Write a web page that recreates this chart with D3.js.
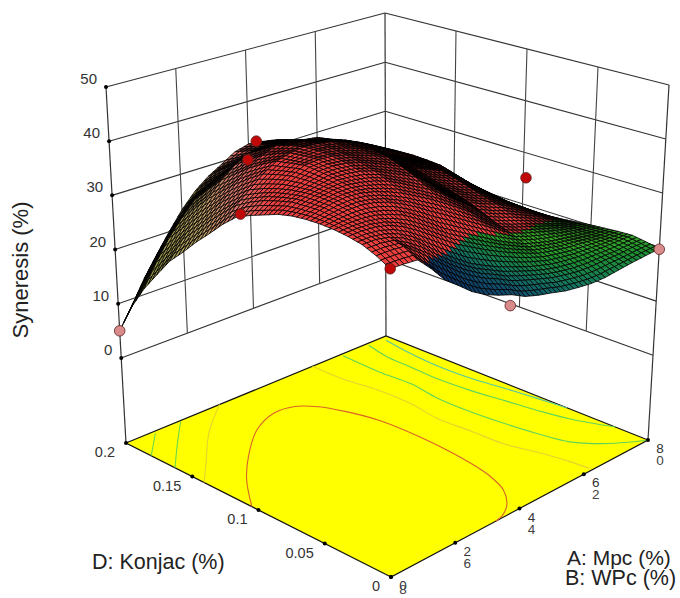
<!DOCTYPE html>
<html>
<head>
<meta charset="utf-8">
<script src="https://cdn.jsdelivr.net/npm/d3@7"></script>
<style>
  html, body { margin: 0; padding: 0; background: #fff; }
  text { font-family: "Liberation Sans", Arial, sans-serif; }
</style>
</head>
<body>
<div id="chart"></div>
<script>
// axis ticks
var zTicks = [0, 10, 20, 30, 40, 50];
var konjacTicks = [0, 0.05, 0.1, 0.15, 0.2];
var konjacLabels = ['0', '0.05', '0.1', '0.15', '0.2'];
var mpcTicks = [0, 2, 4, 6, 8];
var wpcTicks = [8, 6, 4, 2, 0];

var konjacSteps = [0, 0.01, 0.02, 0.03, 0.04, 0.05, 0.06, 0.07, 0.08, 0.09, 0.1, 0.11, 0.12, 0.13, 0.14, 0.15, 0.16, 0.17, 0.18, 0.19, 0.2];
var mpcSteps = [0, 0.4, 0.8, 1.2, 1.6, 2, 2.4, 2.8, 3.2, 3.6, 4, 4.4, 4.8, 5.2, 5.6, 6, 6.4, 6.8, 7.2, 7.6, 8];

// syneresis, one row per konjac step, one column per mpc step
var syneresis = [
  [35.7,35.6,35.4,33,30.2,28.3,26.3,24.8,23.7,22.8,21.5,20.7,20.1,19.4,19,18.7,18.7,19,19.3,19.5,19.7],
  [37,37,36.8,35,33,30.9,28.9,27.2,25.8,24.7,23.4,22.5,21.7,20.9,20.4,20,19.9,20,20,20.2,20.2],
  [38,38,37.5,36.5,35,33,31,29.2,27.5,26.2,25,24,23,22.2,21.5,21.1,20.8,20.7,20.6,20.6,20.6],
  [38.5,38.6,38.4,37.8,36.7,35.2,33.5,31.7,30,28.6,27.2,25.9,24.7,23.6,22.6,22,21.5,21.2,20.9,20.6,20.5],
  [38.8,39,39,38.7,38,37,35.5,33.8,32,30.5,29,27.5,26,24.7,23.5,22.7,22,21.5,21,20.6,20.3],
  [38.9,39.3,39.6,39.6,39.2,38.4,37.2,35.8,34.2,32.7,31.1,29.5,27.9,26.2,24.6,23.6,22.8,22,21.3,20.6,20.1],
  [38.8,39.5,40,40.2,40,39.4,38.5,37.4,36,34.6,33,31.3,29.5,27.4,25.5,24.4,23.5,22.5,21.5,20.6,19.8],
  [38.5,39.4,40.1,40.5,40.6,40.2,39.6,38.7,37.4,36,34.6,32.8,30.8,28.8,26.6,25.5,24.5,23.3,22.1,20.8,19.5],
  [37.9,39.2,40,40.6,41,40.9,40.5,39.7,38.5,37.3,36,34,31.7,29.6,27.7,26.5,25.5,24.1,22.6,21,19.3],
  [36.9,38.5,39.6,40.6,41.3,41.4,41.1,40.4,39.4,38.3,37.1,34.9,32.4,30.3,28.5,27.3,26.2,24.7,23,21.2,19.2],
  [35.9,37.7,39,40.4,41.5,41.7,41.5,40.9,40,39.1,38,35.6,33,31,29.3,28,27,25.2,23.3,21.3,19.2],
  [34.7,36.5,38.1,39.8,41,41.5,41.6,41.2,40.5,39.6,38.5,36.3,33.8,31.8,30.1,28.9,27.8,26,23.9,21.7,19.3],
  [32.5,35,37,39,40.5,41.2,41.5,41.3,40.8,39.9,38.8,36.8,34.5,32.5,30.8,29.6,28.5,26.6,24.4,22,19.6],
  [29.9,32.7,35.1,37.3,39.1,40.2,40.9,40.8,40.3,39.4,38.2,36.6,34.7,32.9,31.2,29.8,28.6,27,25.2,22.6,20],
  [27.4,30.3,33,35.4,37.5,39,40,40,39.5,38.7,37.5,36.3,34.8,33.2,31.6,30,28.7,27.4,26,23.2,20.4],
  [24.6,27.7,30.5,33.2,35.5,37.3,38.4,38.7,38.3,37.6,36.5,35.5,34.4,33.1,31.8,30,28.4,27.3,26.2,23.5,20.8],
  [22,25.1,28,30.9,33.5,35.5,36.8,37.2,37,36.4,35.5,34.8,34,33,32,30,28.2,27.2,26.3,23.8,21.1],
  [18.5,22,25.3,28.2,30.8,32.6,33.9,34.7,35,34.9,34.5,34,33.2,32.3,31.2,29.7,28.3,27.3,26.2,23.9,21.4],
  [14.9,18.9,22.5,25.4,28,29.7,31,32.2,33,33.4,33.5,33.1,32.5,31.6,30.5,29.5,28.5,27.3,26,23.9,21.6],
  [10.5,14.2,18,21.4,24.4,26.7,28.6,30.2,31.2,32.2,32.6,32.3,31.8,30.9,30,29.2,28.2,27,25.8,23.9,21.7],
  [5,8.8,12.9,16.5,20,23.3,26,28,29.5,31.1,31.8,31.5,31,30.1,29.4,29,27.8,26.8,25.5,23.8,21.7]
];

// design points [konjac, mpc, syneresis]
var pointsBelow = [[0.2, 0, 5], [0, 8, 19.6], [0, 3.56, 21]];
var pointsAbove = [[0, 0, 35.7], [0.107, 0, 35.5], [0.2, 4.23, 31.9], [0.2, 3.97, 28.8], [0.098, 8, 25.2]];

// contours on the floor [konjac, mpc]
var contourRed = [[0.105,0],[0.128,0.78],[0.146,1.57],[0.165,2.61],[0.173,3.46],[0.171,4.02],[0.162,4.38],[0.148,4.63],[0.128,4.84],[0.109,4.89],[0.084,4.87],[0.056,4.76],[0.037,4.61],[0.021,4.36],[0.009,3.98],[0.002,3.57],[0,3.26]];
var contourPaleA = [[0.2,5.74],[0.176,5.75],[0.154,5.89],[0.129,5.9],[0.106,5.78],[0.082,5.84],[0.058,5.88],[0.037,6.08],[0.016,6.22],[0.002,6.27]];
var contourPaleB = [[0.2,2.88],[0.18,1.74],[0.156,0.67],[0.141,0]];
var contourGreenA = [[0.198,6.6],[0.17,6.56],[0.146,6.61],[0.123,6.49],[0.098,6.5],[0.075,6.58],[0.053,6.7],[0.032,6.88],[0.016,7.29],[0.006,7.7],[0,8]];
var contourGreenB = [[0.198,7.39],[0.179,7.23],[0.16,7.21],[0.14,7.18],[0.116,7.25],[0.094,7.38],[0.072,7.5],[0.051,7.66],[0.025,8]];
var contourGreenC = [[0.199,1.64],[0.182,0.85],[0.163,0]];
var contourGreenD = [[0.198,0.82],[0.189,0.39],[0.181,0]];
var contourTeal = [[0.196,7.84],[0.178,7.73],[0.151,7.65],[0.127,7.69],[0.105,7.81],[0.082,7.92],[0.062,8]];

// box corners in pixels: front, left, back, right
var floorBox = [[391, 577], [126, 443], [386, 336], [648, 440]];
var topBox = [[390, 183], [106, 87], [385, 13], [669, 85]];

var w = 680;
var h = 598;

var uScale = d3.scaleLinear().domain([0, 0.2]).range([0, 1]);
var vScale = d3.scaleLinear().domain([0, 8]).range([0, 1]);
var tScale = d3.scaleLinear().domain([0, 50]).range([0.239, 1]);

function quad(box, u, v) {
  var f = box[0], l = box[1], b = box[2], r = box[3];
  return [
    f[0] + u * (l[0] - f[0]) + v * (r[0] - f[0]) + u * v * (b[0] - l[0] - r[0] + f[0]),
    f[1] + u * (l[1] - f[1]) + v * (r[1] - f[1]) + u * v * (b[1] - l[1] - r[1] + f[1])
  ];
}

function lift(u, v, t) {
  var a = quad(floorBox, u, v);
  var b = quad(topBox, u, v);
  return [a[0] + t * (b[0] - a[0]), a[1] + t * (b[1] - a[1])];
}

function project(k, m, z) {
  return lift(uScale(k), vScale(m), tScale(z));
}

function onFloor(k, m) {
  return quad(floorBox, uScale(k), vScale(m));
}

var svg = d3.select('#chart').append('svg')
  .attr('width', w)
  .attr('height', h)
  .style('display', 'block');

var line = d3.line();
var wallColor = '#333';

function seg(a, b, color, width) {
  svg.append('path')
    .attr('d', line([a, b]))
    .attr('fill', 'none')
    .attr('stroke', color)
    .attr('stroke-width', width);
}

// walls: level lines
zTicks.forEach(function(z) {
  seg(project(0.2, 0, z), project(0.2, 8, z), wallColor, 1.1);
  seg(project(0.2, 8, z), project(0, 8, z), wallColor, 1.1);
});

// walls: vertical lines, they stop at level 0
mpcTicks.slice(1, 4).forEach(function(m) {
  seg(project(0.2, m, 0), project(0.2, m, 50), '#444', 1.1);
});
konjacTicks.slice(1, 4).forEach(function(k) {
  seg(project(k, 8, 0), project(k, 8, 50), '#444', 1.1);
});

// corner posts go down to the floor
[[0.2, 0], [0.2, 8], [0, 8]].forEach(function(c) {
  seg(onFloor(c[0], c[1]), project(c[0], c[1], 50), '#333', 1.2);
});

// floor
svg.append('path')
  .attr('d', line(floorBox) + 'Z')
  .attr('fill', '#ffff00')
  .attr('stroke', '#111')
  .attr('stroke-width', 1.2);

// contours
var contourLine = d3.line().curve(d3.curveCatmullRom);
[
  [contourRed, '#d9622b'],
  [contourPaleA, '#e6d22e'],
  [contourPaleB, '#e6d22e'],
  [contourGreenA, '#62d45a'],
  [contourGreenB, '#62d45a'],
  [contourGreenC, '#6bd850'],
  [contourGreenD, '#6bd850'],
  [contourTeal, '#58c8a0']
].forEach(function(c) {
  svg.append('path')
    .attr('d', contourLine(c[0].map(function(p) { return onFloor(p[0], p[1]); })))
    .attr('fill', 'none')
    .attr('stroke', c[1])
    .attr('stroke-width', 1.1);
});

// surface colours
var warmColor = d3.scaleLinear()
  .domain([0.42, 0.55, 0.68, 0.85])
  .range(['#ee3f3f', '#d9756c', '#c0a468', '#9a9a48'])
  .clamp(true);
var coolColor = d3.scaleLinear()
  .domain([0.1, 0.4, 0.6, 0.8, 1])
  .range(['#0c2a66', '#10506e', '#147a5c', '#1e9030', '#38a828'])
  .clamp(true);
var coolEdge = d3.scaleLinear()
  .domain([0, 0.2, 0.25, 0.33])
  .range([0.11, 0.5, 0.72, 0.95]);
// tightly packed wires read as black
var packing = d3.scaleLinear().domain([2, 16]).range([0.95, 0]).clamp(true);

function facetColor(u, v) {
  if (u < 0.36 && v > coolEdge(u)) return coolColor(v * 0.8 + u * 2);
  return warmColor(u - v);
}

function facetArea(a, b, c, d) {
  return -0.5 * ((c[0] - a[0]) * (d[1] - b[1]) - (d[0] - b[0]) * (c[1] - a[1]));
}

// each read cell is drawn as a flat patch with a finer wire mesh on it
var wireSteps = 3;
var facets = [];
d3.range(konjacSteps.length - 1).forEach(function(i) {
  d3.range(mpcSteps.length - 1).forEach(function(j) {
    var z00 = syneresis[i][j], z01 = syneresis[i][j + 1];
    var z10 = syneresis[i + 1][j], z11 = syneresis[i + 1][j + 1];
    var u0 = uScale(konjacSteps[i]), u1 = uScale(konjacSteps[i + 1]);
    var v0 = vScale(mpcSteps[j]), v1 = vScale(mpcSteps[j + 1]);
    function corner(a, b) {
      var s = a / wireSteps, r = b / wireSteps;
      var z = z00 * (1 - s) * (1 - r) + z01 * (1 - s) * r + z10 * s * (1 - r) + z11 * s * r;
      return lift(u0 + s * (u1 - u0), v0 + r * (v1 - v0), tScale(z));
    }
    d3.range(wireSteps).forEach(function(a) {
      d3.range(wireSteps).forEach(function(b) {
        var u = u0 + (a + 0.5) / wireSteps * (u1 - u0);
        var v = v0 + (b + 0.5) / wireSteps * (v1 - v0);
        var p = [corner(a, b), corner(a + 1, b), corner(a + 1, b + 1), corner(a, b + 1)];
        facets.push({
          depth: u + v,
          color: d3.interpolateRgb(facetColor(u, v), '#000')(packing(Math.abs(facetArea(p[0], p[1], p[2], p[3])))),
          d: line(p) + 'Z'
        });
      });
    });
  });
});
facets.sort(function(a, b) { return b.depth - a.depth; });

svg.append('g').selectAll('path')
  .data(facets)
  .enter()
  .append('path')
  .attr('d', function(d) { return d.d; })
  .attr('fill', function(d) { return d.color; })
  .attr('stroke', '#000')
  .attr('stroke-width', 0.8);

// design points
function drawPoints(data, color) {
  svg.append('g').selectAll('circle')
    .data(data)
    .enter()
    .append('circle')
    .attr('cx', function(d) { return project(d[0], d[1], d[2])[0]; })
    .attr('cy', function(d) { return project(d[0], d[1], d[2])[1]; })
    .attr('r', 5.3)
    .attr('fill', color)
    .attr('stroke', '#5a2020')
    .attr('stroke-width', 0.8);
}
drawPoints(pointsBelow, '#d98a8a');
drawPoints(pointsAbove, '#c00808');

// tick dots
function dot(p) {
  svg.append('circle').attr('cx', p[0]).attr('cy', p[1]).attr('r', 2).attr('fill', '#000');
}
zTicks.forEach(function(z) { dot(project(0.2, 0, z)); });
konjacTicks.forEach(function(k) { dot(onFloor(k, 0)); });
mpcTicks.forEach(function(m) { dot(onFloor(0, m)); });

function label(x, y, str, size, anchor, color) {
  return svg.append('text')
    .attr('x', x)
    .attr('y', y)
    .attr('font-size', size)
    .attr('text-anchor', anchor)
    .attr('fill', color)
    .text(str);
}

// tick labels
zTicks.forEach(function(z) {
  var p = project(0.2, 0, z);
  label(p[0] - 9, p[1] - 3, String(z), 15, 'end', '#333');
});
konjacTicks.forEach(function(k, i) {
  var p = onFloor(k, 0);
  label(p[0] - 11, p[1] + 14, konjacLabels[i], 14.5, 'end', '#333');
});
mpcTicks.forEach(function(m, i) {
  var p = onFloor(0, m);
  label(p[0] + 12, p[1] + 13, String(m), 13.5, 'middle', '#333');
  label(p[0] + 12, Math.min(p[1] + 25, 594), String(wpcTicks[i]), 13.5, 'middle', '#444');
});

// axis titles
label(92, 569, 'D: Konjac (%)', 21.5, 'start', '#222');
label(567, 565, 'A: Mpc (%)', 21, 'start', '#222');
label(565, 585, 'B: WPc (%)', 21.5, 'start', '#222');
label(0, 0, 'Syneresis (%)', 22, 'middle', '#222')
  .attr('transform', 'translate(28,270) rotate(-90)');
</script>
</body>
</html>
